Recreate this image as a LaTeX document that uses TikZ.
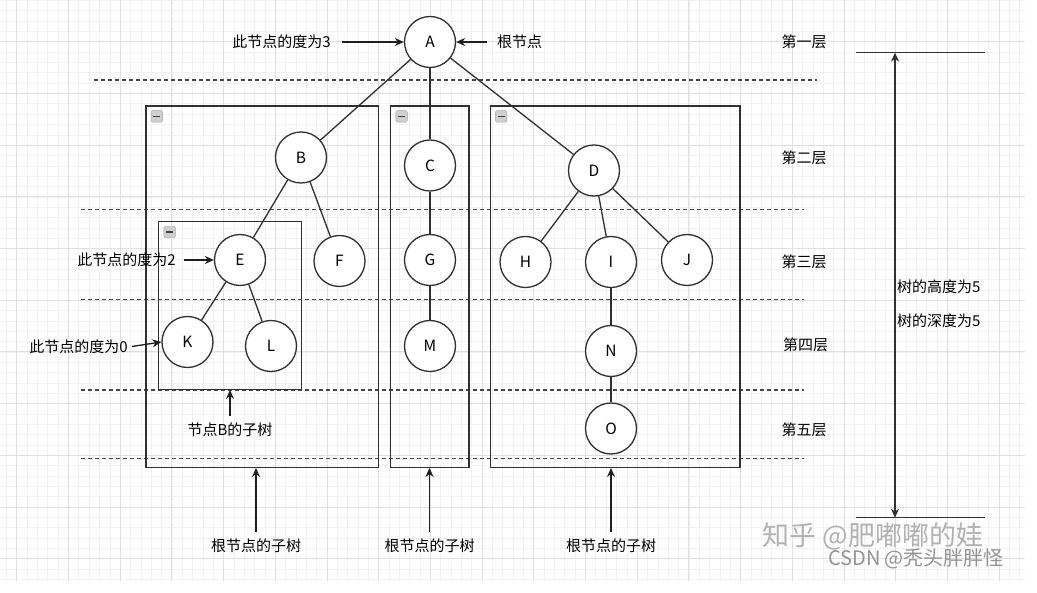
\documentclass[tikz,border=0pt]{standalone}
\usepackage{fontspec}
\setmainfont{Noto Sans CJK SC}
\usetikzlibrary{arrows.meta}
\definecolor{ink}{HTML}{303030}
\definecolor{minorg}{HTML}{F2F2F2}
\definecolor{majorg}{HTML}{E0E0E0}
\begin{document}
\begin{tikzpicture}[x=1pt,y=-1pt,
  tnode/.style={circle, draw=ink, line width=1.3pt, minimum size=51pt, inner sep=0pt, fill=white, font=\fontsize{15.5}{18}\selectfont},
  lbl/.style={font=\fontsize{15}{18}\selectfont, inner sep=0pt, text=black},
  boxc/.style={rectangle, draw=ink, line width=1.3pt, inner sep=0pt},
  edge/.style={draw=ink, line width=1.3pt},
  arr/.style={-{Stealth[length=9pt,width=8pt]}, line width=1.3pt, draw=black!88},
  dline/.style={draw=black!72, line width=1.1pt, dash pattern=on 4pt off 3pt},
  minusicon/.style={rectangle, rounded corners=1.5pt, minimum size=11.5pt, inner sep=0pt, draw=gray!70, fill=gray!38},
  minusbar/.style={draw=black!75, line width=1.6pt},
  minorgrid/.style={draw=minorg, line width=0.5pt},
  majorgrid/.style={draw=majorg, line width=0.8pt}
]
\useasboundingbox (0,0) rectangle (1037,593);
\fill[white] (0,0) rectangle (1037,593);
% grid
\foreach \j in {-1,...,97} \draw[minorgrid] ({16.7+10.34*\j},0) -- ({16.7+10.34*\j},581);
\foreach \j in {-4,...,52} \draw[minorgrid] (0,{41.7+10.34*\j}) -- (1025,{41.7+10.34*\j});
\foreach \j in {0,...,19} \draw[majorgrid] ({16.7+51.7*\j},0) -- ({16.7+51.7*\j},581);
\foreach \j in {0,...,10} \draw[majorgrid] (0,{41.7+51.7*\j}) -- (1025,{41.7+51.7*\j});

% dashed layer separators
\draw[dline] (94,80) -- (817,80);
\draw[dline] (81,209.3) -- (804,209.3);
\draw[dline] (81,299.3) -- (804,299.3);
\draw[dline] (81,390) -- (804,390);
\draw[dline] (81,458.3) -- (804,458.3);

% subtree boxes
\node[boxc, minimum width=232.7pt, minimum height=361.3pt] (box1) at (262.35,286.65) {};
\node[boxc, minimum width=78.3pt, minimum height=361.3pt] (box2) at (429.85,286.65) {};
\node[boxc, minimum width=249.7pt, minimum height=361.3pt] (box3) at (615.15,286.65) {};
\node[boxc, minimum width=142.6pt, minimum height=167.6pt] (boxE) at (230,305.5) {};

% collapse icons
\foreach \b/\m in {box1/m1, box2/m2, box3/m3, boxE/m4} {
  \node[minusicon] (\m) at ([xshift=11.5pt,yshift=-11pt]\b.north west) {};
  \draw[minusbar] ([xshift=-3.4pt]\m.center) -- ([xshift=3.4pt]\m.center);
}

% tree nodes
\node[tnode] (A) at (430,42) {A};
\node[tnode] (B) at (301,157.5) {B};
\node[tnode] (C) at (430,165.5) {C};
\node[tnode] (D) at (594,170.5) {D};
\node[tnode] (E) at (240,260) {E};
\node[tnode] (F) at (339.5,261) {F};
\node[tnode] (G) at (430,260) {G};
\node[tnode] (H) at (525.5,262) {H};
\node[tnode] (I) at (611,262) {I};
\node[tnode] (J) at (687,260) {J};
\node[tnode] (K) at (187.5,342) {K};
\node[tnode] (L) at (271,346) {L};
\node[tnode] (M) at (430,346) {M};
\node[tnode] (N) at (611,351) {N};
\node[tnode] (O) at (611,428.5) {O};

% edges
\foreach \p/\c in {A/B, A/C, A/D, B/E, B/F, C/G, G/M, D/H, D/I, D/J, E/K, E/L, I/N, N/O}
  \draw[edge] (\p) -- (\c);

% annotation labels and arrows
\node[lbl] (deg3) at (281.5,42) {此节点的度为3};
\draw[arr] ([xshift=11pt]deg3.east) -- (A.west);
\node[lbl, anchor=west] (root) at (497,42) {根节点};
\draw[arr] ([xshift=-10pt]root.west) -- (A.east);
\node[lbl] (deg2) at (126.5,260) {此节点的度为2};
\draw[arr] ([xshift=8pt]deg2.east) -- (E.west);
\node[lbl] (deg0) at (78.5,346.5) {此节点的度为0};
\draw[arr] ([xshift=4pt]deg0.east) -- (K.west);
\node[lbl] (subB) at (230,429.3) {节点B的子树};
\draw[arr] ([yshift=6pt]subB.north) -- (subB.north |- boxE.south);
\node[lbl] (sub1) at (256,546) {根节点的子树};
\draw[arr] ([yshift=7pt]sub1.north) -- (sub1.north |- box1.south);
\node[lbl] (sub2) at (429.5,546) {根节点的子树};
\draw[arr] ([yshift=7pt]sub2.north) -- (sub2.north |- box2.south);
\node[lbl] (sub3) at (611,546) {根节点的子树};
\draw[arr] ([yshift=7pt]sub3.north) -- (sub3.north |- box3.south);

% layer labels
\node[lbl] (lay1) at (804,42) {第一层};
\node[lbl] (lay2) at (804,158) {第二层};
\node[lbl] (lay3) at (804,262) {第三层};
\node[lbl] (lay4) at (805.5,344.5) {第四层};
\node[lbl] (lay5) at (804,429.5) {第五层};

% height indicator
\coordinate (tl) at (856,52.7);
\coordinate (tr) at (985,52.7);
\coordinate (bl) at (856,517.7);
\coordinate (br) at (985,517.7);
\coordinate (ht) at (895,52.7);
\coordinate (hb) at (895,517.7);
\draw[edge] (tl) -- (tr);
\draw[edge] (bl) -- (br);
\draw[edge, {Stealth[length=9pt,width=8pt]}-{Stealth[length=9pt,width=8pt]}] (ht) -- (hb);
\node[lbl, anchor=west] (hgt) at (897,287) {树的高度为5};
\node[lbl, anchor=west] (dep) at (897,321) {树的深度为5};

% watermarks
\node[inner sep=0pt, text=black!30, font=\fontsize{27}{30}\selectfont] (wm1) at (873,536) {知乎 @肥嘟嘟的娃};
\node[inner sep=0pt, text=black!42, font=\fontsize{20}{24}\selectfont] (wm2) at (916,559) {CSDN @秃头胖胖怪};
\end{tikzpicture}
\end{document}
